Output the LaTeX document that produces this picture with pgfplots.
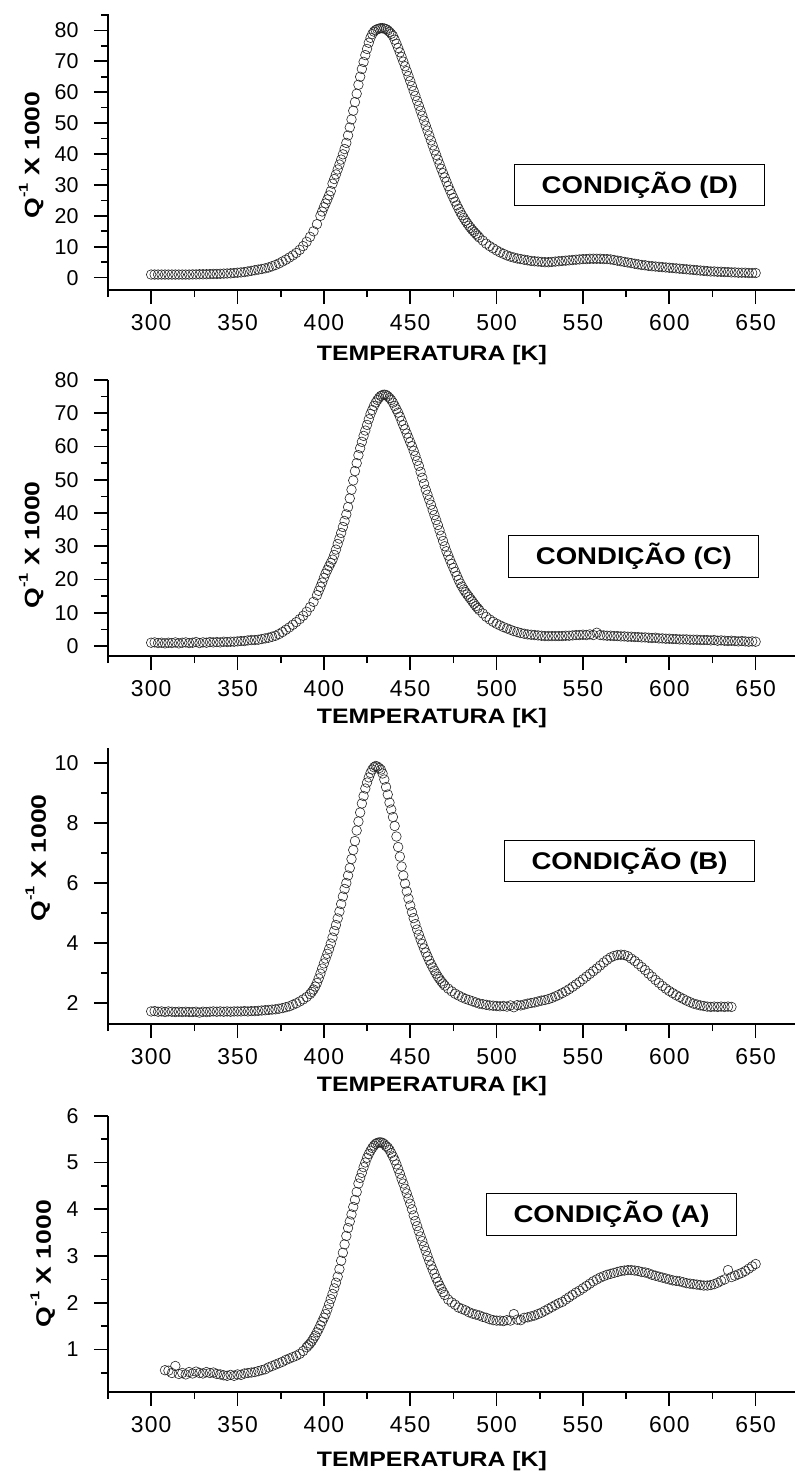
\documentclass[border=0pt]{standalone}
\usepackage{fontspec}
\setmainfont{Liberation Sans}
\usepackage{graphicx}
\usepackage{pgfplots}
\usepackage{pgfplotstable}
\pgfplotsset{compat=1.18}

% ---------- Condicao D ----------
\pgfplotstableread[row sep=\\]{T Q\\
300 1.0\\ 302 1.0\\ 304 1.0\\ 306 1.0\\ 308 1.0\\ 310 1.0\\ 312 1.0\\ 314 1.0\\ 316 1.0\\ 318 1.0\\
320 1.0\\ 322 1.0\\ 324 1.05\\ 326 1.05\\ 328 1.1\\ 330 1.1\\ 332 1.1\\ 334 1.15\\ 336 1.2\\ 338 1.2\\
340 1.25\\ 342 1.3\\ 344 1.35\\ 346 1.4\\ 348 1.5\\ 350 1.6\\ 352 1.7\\ 354 1.8\\ 356 2.0\\ 358 2.2\\
360 2.4\\ 362 2.6\\ 364 2.8\\ 366 3.0\\ 368 3.3\\ 370 3.7\\ 372 4.1\\ 374 4.6\\ 376 5.2\\ 378 5.8\\
380 6.5\\ 382 7.2\\ 384 8.0\\ 386 9.0\\ 388 10.2\\ 390 11.6\\ 392 13.2\\ 394 15.0\\ 396 17.3\\ 398 20.0\\
399 21.4\\ 400 22.8\\ 401 24.0\\ 402 25.3\\ 403 26.6\\ 404 28.0\\ 405 30.4\\ 406 31.9\\ 407 33.4\\ 408 35.0\\
409 36.6\\ 410 38.2\\ 411 39.9\\ 412 41.6\\ 413 43.6\\ 414 46.0\\ 415 48.6\\ 416 51.2\\ 417 54.0\\ 418 56.8\\
419 59.5\\ 420 62.4\\ 421 65.0\\ 422 67.5\\ 423 69.8\\ 424 72.0\\ 425 74.0\\ 426 76.0\\ 427 77.6\\ 428 78.8\\
429 79.6\\ 430 80.1\\ 431 80.4\\ 432 80.6\\ 433 80.7\\ 434 80.7\\ 435 80.6\\ 436 80.4\\ 437 80.0\\ 438 79.5\\
439 78.9\\ 440 78.2\\ 441 77.0\\ 442 75.7\\ 443 74.3\\ 444 72.9\\ 445 71.4\\ 446 69.9\\ 447 68.4\\ 448 66.8\\
449 65.2\\ 450 63.6\\ 451 62.0\\ 452 60.4\\ 453 58.8\\ 454 57.2\\ 455 55.6\\ 456 54.0\\ 457 52.4\\ 458 50.8\\
459 49.2\\ 460 47.6\\ 461 46.0\\ 462 44.4\\ 463 42.8\\ 464 41.2\\ 465 39.7\\ 466 38.2\\ 467 36.7\\ 468 35.2\\
469 33.8\\ 470 32.4\\ 471 31.0\\ 472 29.6\\ 473 28.3\\ 474 27.0\\ 475 25.8\\ 476 24.6\\ 477 23.4\\ 478 22.3\\
479 21.2\\ 480 20.2\\ 481 19.3\\ 482 18.4\\ 483 17.6\\ 484 16.8\\ 485 16.1\\ 486 15.4\\ 487 14.8\\ 488 14.2\\
489 13.6\\ 490 13.0\\ 492 12.0\\ 494 11.0\\ 496 10.2\\ 498 9.5\\ 500 8.8\\ 502 8.2\\ 504 7.7\\ 506 7.2\\
508 6.8\\ 510 6.5\\ 512 6.2\\ 514 6.0\\ 516 5.8\\ 518 5.6\\ 520 5.4\\ 522 5.3\\ 524 5.2\\ 526 5.1\\
528 5.0\\ 530 5.0\\ 532 5.1\\ 534 5.2\\ 536 5.3\\ 538 5.4\\ 540 5.5\\ 542 5.6\\ 544 5.7\\ 546 5.8\\
548 5.9\\ 550 6.0\\ 552 6.0\\ 554 6.1\\ 556 6.1\\ 558 6.1\\ 560 6.1\\ 562 6.0\\ 564 6.0\\ 566 5.9\\
568 5.7\\ 570 5.5\\ 572 5.3\\ 574 5.1\\ 576 4.9\\ 578 4.7\\ 580 4.5\\ 582 4.3\\ 584 4.1\\ 586 4.0\\
588 3.8\\ 590 3.7\\ 592 3.6\\ 594 3.5\\ 596 3.4\\ 598 3.3\\ 600 3.2\\ 602 3.1\\ 604 3.0\\ 606 2.9\\
608 2.8\\ 610 2.7\\ 612 2.6\\ 614 2.5\\ 616 2.4\\ 618 2.3\\ 620 2.2\\ 622 2.1\\ 624 2.0\\ 626 2.0\\
628 1.9\\ 630 1.9\\ 632 1.8\\ 634 1.8\\ 636 1.7\\ 638 1.7\\ 640 1.6\\ 642 1.6\\ 644 1.6\\ 646 1.5\\
648 1.5\\ 650 1.5\\
}\dataD

% ---------- Condicao C ----------
\pgfplotstableread[row sep=\\]{T Q\\
300 1.0\\ 302 1.1\\ 304 0.9\\ 306 1.0\\ 308 0.8\\ 310 1.0\\ 312 0.9\\ 314 1.1\\ 316 0.8\\ 318 1.0\\
320 1.1\\ 322 0.9\\ 324 1.0\\ 326 1.2\\ 328 0.9\\ 330 1.1\\ 332 1.0\\ 334 1.2\\ 336 1.1\\ 338 1.2\\
340 1.1\\ 342 1.3\\ 344 1.2\\ 346 1.3\\ 348 1.3\\ 350 1.4\\ 352 1.5\\ 354 1.5\\ 356 1.7\\ 358 1.8\\
360 1.8\\ 362 1.9\\ 364 2.1\\ 366 2.3\\ 368 2.5\\ 370 2.8\\ 372 3.1\\ 374 3.6\\ 376 4.2\\ 378 4.9\\
380 5.6\\ 382 6.4\\ 384 7.2\\ 386 8.1\\ 388 9.1\\ 390 10.3\\ 392 11.7\\ 394 13.3\\ 396 15.3\\ 397 16.6\\
398 17.8\\ 399 19.1\\ 400 20.5\\ 401 21.8\\ 402 22.9\\ 403 24.0\\ 404 25.0\\ 405 26.0\\ 406 27.4\\ 407 29.0\\
408 30.7\\ 409 32.3\\ 410 34.0\\ 411 35.8\\ 412 37.6\\ 413 39.6\\ 414 41.8\\ 415 44.4\\ 416 47.0\\ 417 49.8\\
418 52.6\\ 419 55.0\\ 420 57.4\\ 421 59.5\\ 422 61.4\\ 423 63.2\\ 424 64.8\\ 425 66.5\\ 426 68.2\\ 427 69.8\\
428 71.0\\ 429 72.2\\ 430 73.2\\ 431 74.0\\ 432 74.7\\ 433 75.2\\ 434 75.5\\ 435 75.6\\ 436 75.5\\ 437 75.1\\
438 74.6\\ 439 74.0\\ 440 73.2\\ 441 72.2\\ 442 71.2\\ 443 70.2\\ 444 69.0\\ 445 67.7\\ 446 66.4\\ 447 65.2\\
448 63.9\\ 449 62.6\\ 450 61.3\\ 451 60.1\\ 452 58.7\\ 453 57.2\\ 454 55.7\\ 455 54.2\\ 456 52.4\\ 457 50.6\\
458 48.8\\ 459 47.0\\ 460 45.5\\ 461 44.0\\ 462 42.5\\ 463 40.9\\ 464 39.4\\ 465 37.9\\ 466 36.4\\ 467 34.8\\
468 33.2\\ 469 31.6\\ 470 30.0\\ 471 28.5\\ 472 27.2\\ 473 25.9\\ 474 24.7\\ 475 23.5\\ 476 22.3\\ 477 21.1\\
478 19.9\\ 479 18.8\\ 480 17.9\\ 481 17.0\\ 482 16.2\\ 483 15.5\\ 484 14.8\\ 485 14.1\\ 486 13.4\\ 487 12.7\\
488 12.0\\ 489 11.4\\ 490 10.8\\ 492 9.8\\ 494 8.8\\ 496 8.0\\ 498 7.3\\ 500 6.7\\ 502 6.2\\ 504 5.7\\
506 5.3\\ 508 4.9\\ 510 4.5\\ 512 4.2\\ 514 3.9\\ 516 3.7\\ 518 3.5\\ 520 3.4\\ 522 3.3\\ 524 3.2\\
526 3.1\\ 528 3.0\\ 530 3.0\\ 532 3.0\\ 534 3.0\\ 536 3.0\\ 538 3.0\\ 540 3.1\\ 542 3.1\\ 544 3.2\\
546 3.3\\ 548 3.3\\ 550 3.4\\ 552 3.3\\ 554 3.5\\ 556 3.3\\ 558 4.0\\ 560 3.3\\ 562 3.2\\ 564 3.1\\
566 3.1\\ 568 3.0\\ 570 3.0\\ 572 2.9\\ 574 2.9\\ 576 2.8\\ 578 2.8\\ 580 2.7\\ 582 2.7\\ 584 2.6\\
586 2.6\\ 588 2.5\\ 590 2.4\\ 592 2.5\\ 594 2.3\\ 596 2.3\\ 598 2.2\\ 600 2.2\\ 602 2.1\\ 604 2.1\\
606 2.0\\ 608 2.0\\ 610 2.0\\ 612 1.9\\ 614 1.9\\ 616 1.9\\ 618 1.8\\ 620 1.8\\ 622 1.8\\ 624 1.7\\
626 1.8\\ 628 1.6\\ 630 1.7\\ 632 1.6\\ 634 1.5\\ 636 1.6\\ 638 1.5\\ 640 1.4\\ 642 1.5\\ 644 1.4\\
646 1.3\\ 648 1.4\\ 650 1.3\\
}\dataC

% ---------- Condicao B ----------
\pgfplotstableread[row sep=\\]{T Q\\
300 1.72\\ 302 1.73\\ 304 1.71\\ 306 1.72\\ 308 1.70\\ 310 1.72\\ 312 1.71\\ 314 1.70\\ 316 1.71\\ 318 1.70\\
320 1.71\\ 322 1.70\\ 324 1.70\\ 326 1.71\\ 328 1.68\\ 330 1.71\\ 332 1.70\\ 334 1.71\\ 336 1.72\\ 338 1.71\\
340 1.72\\ 342 1.71\\ 344 1.72\\ 346 1.71\\ 348 1.72\\ 350 1.72\\ 352 1.72\\ 354 1.73\\ 356 1.72\\ 358 1.73\\
360 1.73\\ 362 1.74\\ 364 1.75\\ 366 1.76\\ 368 1.77\\ 370 1.78\\ 372 1.79\\ 374 1.81\\ 376 1.83\\ 378 1.86\\
380 1.89\\ 382 1.94\\ 384 1.99\\ 386 2.05\\ 388 2.12\\ 390 2.20\\ 392 2.30\\ 393 2.37\\ 394 2.45\\ 395 2.55\\
396 2.67\\ 397 2.82\\ 398 2.98\\ 399 3.15\\ 400 3.32\\ 401 3.48\\ 402 3.64\\ 403 3.80\\ 404 3.98\\ 405 4.18\\
406 4.40\\ 407 4.60\\ 408 4.82\\ 409 5.05\\ 410 5.30\\ 411 5.55\\ 412 5.80\\ 413 6.00\\ 414 6.25\\ 415 6.50\\
416 6.80\\ 417 7.10\\ 418 7.40\\ 419 7.75\\ 420 8.05\\ 421 8.35\\ 422 8.65\\ 423 8.90\\ 424 9.15\\ 425 9.35\\
426 9.52\\ 427 9.67\\ 428 9.78\\ 429 9.86\\ 430 9.90\\ 431 9.88\\ 432 9.83\\ 433 9.78\\ 434 9.65\\ 435 9.45\\
436 9.20\\ 437 8.95\\ 438 8.68\\ 439 8.45\\ 440 8.20\\ 441 7.90\\ 442 7.55\\ 443 7.20\\ 444 6.88\\ 445 6.55\\
446 6.25\\ 447 5.98\\ 448 5.72\\ 449 5.48\\ 450 5.25\\ 451 5.03\\ 452 4.83\\ 453 4.63\\ 454 4.45\\ 455 4.28\\
456 4.12\\ 457 3.97\\ 458 3.82\\ 459 3.68\\ 460 3.55\\ 461 3.42\\ 462 3.30\\ 463 3.19\\ 464 3.08\\ 465 2.98\\
466 2.88\\ 467 2.80\\ 468 2.72\\ 469 2.65\\ 470 2.58\\ 472 2.48\\ 474 2.39\\ 476 2.31\\ 478 2.25\\ 480 2.19\\
482 2.14\\ 484 2.10\\ 486 2.06\\ 488 2.02\\ 490 1.98\\ 492 1.96\\ 494 1.94\\ 496 1.92\\ 498 1.91\\ 500 1.90\\
502 1.89\\ 504 1.90\\ 506 1.88\\ 508 1.92\\ 510 1.86\\ 512 1.93\\ 514 1.92\\ 516 1.95\\ 518 1.98\\ 520 2.00\\
522 2.02\\ 524 2.05\\ 526 2.08\\ 528 2.10\\ 530 2.13\\ 532 2.17\\ 534 2.22\\ 536 2.27\\ 538 2.33\\ 540 2.39\\
542 2.46\\ 544 2.54\\ 546 2.62\\ 548 2.70\\ 550 2.79\\ 552 2.88\\ 554 2.97\\ 556 3.06\\ 558 3.15\\ 560 3.25\\
562 3.35\\ 564 3.44\\ 566 3.52\\ 568 3.57\\ 570 3.60\\ 572 3.61\\ 574 3.60\\ 576 3.56\\ 578 3.48\\ 580 3.40\\
582 3.30\\ 584 3.20\\ 586 3.10\\ 588 2.98\\ 590 2.88\\ 592 2.77\\ 594 2.67\\ 596 2.57\\ 598 2.48\\ 600 2.40\\
602 2.33\\ 604 2.26\\ 606 2.20\\ 608 2.14\\ 610 2.08\\ 612 2.03\\ 614 1.98\\ 616 1.95\\ 618 1.92\\ 620 1.90\\
622 1.88\\ 624 1.87\\ 626 1.88\\ 628 1.87\\ 630 1.88\\ 632 1.87\\ 634 1.88\\ 636 1.87\\
}\dataB

% ---------- Condicao A ----------
\pgfplotstableread[row sep=\\]{T Q\\
308 0.56\\ 310 0.55\\ 312 0.50\\ 314 0.65\\ 316 0.48\\ 318 0.50\\ 320 0.47\\ 322 0.52\\ 324 0.49\\ 326 0.53\\
328 0.50\\ 330 0.49\\ 332 0.52\\ 334 0.50\\ 336 0.51\\ 338 0.48\\ 340 0.47\\ 342 0.45\\ 344 0.44\\ 346 0.46\\
348 0.44\\ 350 0.47\\ 352 0.46\\ 354 0.49\\ 356 0.50\\ 358 0.51\\ 360 0.52\\ 362 0.54\\ 364 0.56\\ 366 0.58\\
368 0.62\\ 370 0.65\\ 372 0.68\\ 374 0.71\\ 376 0.74\\ 378 0.78\\ 380 0.81\\ 382 0.84\\ 384 0.87\\ 386 0.91\\
388 0.97\\ 390 1.05\\ 391 1.09\\ 392 1.13\\ 393 1.18\\ 394 1.24\\ 395 1.30\\ 396 1.37\\ 397 1.44\\ 398 1.52\\
399 1.60\\ 400 1.68\\ 401 1.76\\ 402 1.86\\ 403 1.97\\ 404 2.08\\ 405 2.19\\ 406 2.31\\ 407 2.43\\ 408 2.56\\
409 2.72\\ 410 2.90\\ 411 3.07\\ 412 3.25\\ 413 3.43\\ 414 3.60\\ 415 3.74\\ 416 3.89\\ 417 4.05\\ 418 4.20\\
419 4.37\\ 420 4.55\\ 421 4.67\\ 422 4.78\\ 423 4.90\\ 424 5.00\\ 425 5.10\\ 426 5.18\\ 427 5.25\\ 428 5.31\\
429 5.36\\ 430 5.40\\ 431 5.42\\ 432 5.43\\ 433 5.43\\ 434 5.42\\ 435 5.39\\ 436 5.35\\ 437 5.32\\ 438 5.27\\
439 5.20\\ 440 5.13\\ 441 5.05\\ 442 4.96\\ 443 4.86\\ 444 4.76\\ 445 4.65\\ 446 4.55\\ 447 4.44\\ 448 4.34\\
449 4.23\\ 450 4.12\\ 451 4.00\\ 452 3.87\\ 453 3.75\\ 454 3.64\\ 455 3.53\\ 456 3.42\\ 457 3.32\\ 458 3.21\\
459 3.11\\ 460 3.00\\ 461 2.90\\ 462 2.80\\ 463 2.71\\ 464 2.62\\ 465 2.53\\ 466 2.45\\ 467 2.37\\ 468 2.30\\
469 2.23\\ 470 2.17\\ 472 2.07\\ 474 2.01\\ 476 1.96\\ 478 1.90\\ 480 1.87\\ 482 1.84\\ 484 1.80\\ 486 1.77\\
488 1.75\\ 490 1.73\\ 492 1.70\\ 494 1.68\\ 496 1.65\\ 498 1.63\\ 500 1.62\\ 502 1.62\\ 504 1.61\\ 506 1.63\\
508 1.62\\ 510 1.76\\ 512 1.64\\ 514 1.63\\ 516 1.68\\ 518 1.69\\ 520 1.71\\ 522 1.73\\ 524 1.76\\ 526 1.79\\
528 1.83\\ 530 1.87\\ 532 1.91\\ 534 1.95\\ 536 1.99\\ 538 2.02\\ 540 2.07\\ 542 2.12\\ 544 2.17\\ 546 2.22\\
548 2.26\\ 550 2.31\\ 552 2.36\\ 554 2.41\\ 556 2.46\\ 558 2.50\\ 560 2.54\\ 562 2.57\\ 564 2.60\\ 566 2.62\\
568 2.64\\ 570 2.66\\ 572 2.68\\ 574 2.69\\ 576 2.70\\ 578 2.70\\ 580 2.69\\ 582 2.68\\ 584 2.66\\ 586 2.65\\
588 2.63\\ 590 2.60\\ 592 2.58\\ 594 2.56\\ 596 2.54\\ 598 2.52\\ 600 2.50\\ 602 2.48\\ 604 2.47\\ 606 2.46\\
608 2.44\\ 610 2.42\\ 612 2.41\\ 614 2.40\\ 616 2.39\\ 618 2.38\\ 620 2.37\\ 622 2.37\\ 624 2.38\\ 626 2.40\\
628 2.43\\ 630 2.47\\ 632 2.50\\ 634 2.70\\ 636 2.55\\ 638 2.58\\ 640 2.61\\ 642 2.64\\ 644 2.68\\ 646 2.73\\
648 2.78\\ 650 2.83\\
}\dataA

\newcommand{\xtickfont}{\fontsize{23}{26}\selectfont\addfontfeature{LetterSpace=5}}
\newcommand{\ytickfont}{\fontsize{21.5}{24}\selectfont}
\newcommand{\xlab}{\resizebox{230bp}{\height}{\bfseries\fontsize{21}{24}\selectfont TEMPERATURA [K]}}
\newcommand{\qlabel}{\resizebox{127bp}{\height}{\bfseries\fontsize{21}{24}\selectfont
  Q\raisebox{0.55em}{\fontsize{13}{14}\selectfont -1} X 1000}}
\newcommand{\cond}[1]{\resizebox{196bp}{\height}{\bfseries\fontsize{24.2}{28}\selectfont CONDIÇÃO (#1)}}

\tikzset{
  condbox/.style={draw=black, line width=1bp, fill=white, minimum width=250bp,
    minimum height=41.5bp, inner sep=0pt},
}
\pgfplotsset{
  panel/.style={
    scale only axis, width=690.8bp, height=276bp,
    xmin=275, xmax=675,
    axis x line*=bottom, axis y line*=left,
    axis line style={line width=1.6bp, black},
    every tick/.style={line width=1.6bp, black},
    tick align=outside,
    major tick length=14bp, minor tick length=7bp,
    xtick={300,350,...,650}, minor xtick={275,325,...,675},
    xticklabel style={font=\xtickfont, yshift=-7bp},
    yticklabel style={font=\ytickfont, xshift=-12bp},
    /pgf/number format/assume math mode=true,
    xlabel={\xlab},
    xlabel style={at={(axis description cs:0.469,0)}, anchor=base},
    ylabel={\qlabel},
    clip=false,
  },
  qpts/.style={only marks, mark=o, mark size=4.8bp,
    mark options={fill=white, draw=black!85, line width=0.6bp}},
}

\begin{document}
\begin{tikzpicture}
\useasboundingbox (0,0) rectangle (795bp,-1477bp);

% ---- D ----
\begin{axis}[panel, at={(108bp,-290bp)}, anchor=south west,
  ymin=-4, ymax=85.3, ytick={0,10,...,80}, minor ytick={5,15,...,85},
  xlabel style={yshift=-70bp},
  ylabel style={at={(axis description cs:-0.111,0.489)}, anchor=center}]
\addplot[qpts] table[x=T,y=Q] {\dataD};
\node[condbox] at (axis cs:582.9,29.9) {\cond{D}};
\end{axis}

% ---- C ----
\begin{axis}[panel, at={(108bp,-656bp)}, anchor=south west,
  ymin=-3, ymax=80, ytick={0,10,...,80}, minor ytick={5,15,...,75},
  xlabel style={yshift=-67bp},
  ylabel style={at={(axis description cs:-0.111,0.403)}, anchor=center}]
\addplot[qpts] table[x=T,y=Q] {\dataC};
\node[condbox] at (axis cs:579.5,27.0) {\cond{C}};
\end{axis}

% ---- B ----
\begin{axis}[panel, at={(108bp,-1024bp)}, anchor=south west,
  ymin=1.3, ymax=10.5, ytick={2,4,...,10}, minor ytick={3,5,7,9},
  xlabel style={yshift=-67bp},
  ylabel style={at={(axis description cs:-0.1016,0.602)}, anchor=center}]
\addplot[qpts] table[x=T,y=Q] {\dataB};
\node[condbox] at (axis cs:577,6.73) {\cond{B}};
\end{axis}

% ---- A ----
\begin{axis}[panel, at={(108bp,-1391.7bp)}, anchor=south west,
  ymin=0.1, ymax=6, ytick={1,2,...,6}, minor ytick={0.5,1.5,...,5.5},
  xlabel style={yshift=-75bp},
  ylabel style={at={(axis description cs:-0.0945,0.464)}, anchor=center}]
\addplot[qpts] table[x=T,y=Q] {\dataA};
\node[condbox] at (axis cs:566.6,3.89) {\cond{A}};
\end{axis}
\end{tikzpicture}
\end{document}
